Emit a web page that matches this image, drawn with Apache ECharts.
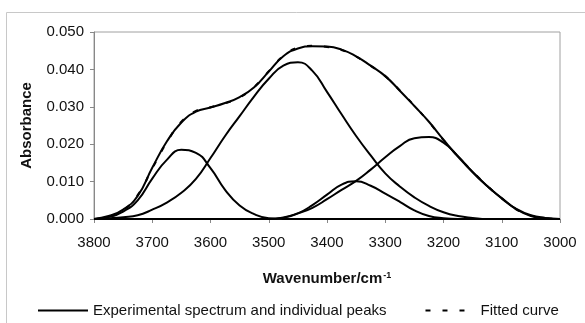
<!DOCTYPE html>
<html>
<head>
<meta charset="utf-8">
<script src="https://cdn.jsdelivr.net/npm/echarts@6/dist/echarts.min.js"></script>
<style>
  html, body { margin: 0; padding: 0; background: #fff; }
  #main { width: 585px; height: 323px; }
</style>
</head>
<body>
<div id="main"></div>
<script>
// wavenumber grid (cm-1), every 25
let wavenumbers = [3800, 3775, 3750, 3725, 3700, 3675, 3650, 3625, 3600, 3575, 3550,
  3525, 3500, 3475, 3450, 3425, 3400, 3375, 3350, 3325, 3300, 3275, 3250, 3225, 3200,
  3175, 3150, 3125, 3100, 3075, 3050, 3025, 3000];

let experimental = [0, 0.0008, 0.0025, 0.0062, 0.0137, 0.0207, 0.0258, 0.0287, 0.0298, 0.031, 0.0326,
  0.0352, 0.0394, 0.0435, 0.0456, 0.0462, 0.0461, 0.0453, 0.0435, 0.041, 0.0382, 0.0343, 0.0302, 0.026, 0.0212,
  0.0166, 0.0126, 0.0088, 0.0056, 0.0026, 0.0008, 0.0002, 0];

let fitted = [0, 0.0006, 0.0023, 0.0064, 0.0135, 0.0205, 0.026, 0.0289, 0.0299, 0.0309, 0.0325,
  0.0353, 0.0395, 0.0436, 0.0458, 0.0463, 0.046, 0.0452, 0.0434, 0.0409, 0.0382, 0.0344, 0.0303, 0.0259, 0.0211,
  0.0167, 0.0127, 0.0089, 0.0055, 0.0026, 0.0009, 0.0002, 0];

let peak1 = [0, 0.0005, 0.002, 0.005, 0.0108, 0.0158, 0.0185, 0.0177, 0.0136, 0.0078, 0.0036,
  0.0013, 0.0002, 0, 0, 0, 0, 0, 0, 0, 0, 0, 0, 0, 0,
  0, 0, 0, 0, 0, 0, 0, 0];

let peak2 = [0, 0.0002, 0.0005, 0.001, 0.0025, 0.0044, 0.007, 0.0107, 0.0163, 0.0222, 0.0275,
  0.0328, 0.0375, 0.041, 0.0419, 0.0396, 0.034, 0.028, 0.0222, 0.017, 0.0122, 0.0087, 0.0058, 0.0035, 0.0018,
  0.0008, 0.0003, 0, 0, 0, 0, 0, 0];

let peak3 = [0, 0, 0, 0, 0, 0, 0, 0, 0, 0, 0,
  0, 0, 0.0003, 0.0015, 0.0037, 0.0065, 0.0092, 0.0101, 0.0089, 0.0068, 0.0046, 0.0023, 0.0008, 0.0002,
  0, 0, 0, 0, 0, 0, 0, 0];

let peak4 = [0, 0, 0, 0, 0, 0, 0, 0, 0, 0, 0,
  0, 0, 0.0004, 0.0015, 0.003, 0.0053, 0.0078, 0.0102, 0.0132, 0.0165, 0.0195, 0.0216, 0.0219, 0.0204,
  0.0168, 0.0125, 0.0088, 0.0055, 0.0027, 0.001, 0.0003, 0];

let expName = 'Experimental spectrum and individual peaks';
let fitName = 'Fitted curve';

function pairs(values) {
  return wavenumbers.map(function (w, i) { return [w, values[i]]; });
}

function solid(values) {
  return {
    name: expName,
    type: 'line',
    smooth: 0.5,
    symbol: 'none',
    data: pairs(values),
    lineStyle: { color: '#000', width: 2 },
    itemStyle: { color: '#000' }
  };
}

let chart = echarts.init(document.getElementById('main'), null, { renderer: 'canvas' });

let option = {
  animation: false,
  backgroundColor: '#fff',
  textStyle: { fontFamily: 'Liberation Sans, Arial, sans-serif' },
  graphic: [{
    type: 'rect',
    shape: { x: 6.5, y: 12.5, width: 620, height: 400 },
    style: { fill: 'none', stroke: '#c8c8c8', lineWidth: 1 },
    silent: true
  }],
  grid: {
    left: 94, top: 32, right: 25, bottom: 104,
    show: true, borderColor: '#a0a0a0', borderWidth: 1
  },
  legend: {
    data: [expName, fitName],
    bottom: 0, left: 32,
    itemWidth: 50, itemHeight: 10, itemGap: 38,
    itemStyle: { opacity: 0 },
    textStyle: { fontSize: 15, color: '#111' }
  },
  xAxis: {
    type: 'value',
    inverse: true,
    min: 3000, max: 3800, interval: 100,
    name: 'Wavenumber/cm{sup|-1}',
    nameLocation: 'middle',
    nameGap: 52,
    nameTextStyle: {
      fontSize: 15, fontWeight: 'bold', color: '#111',
      rich: { sup: { fontSize: 9, fontWeight: 'bold', verticalAlign: 'top', padding: [0, 0, 7, 1] } }
    },
    axisLine: { lineStyle: { color: '#888' } },
    axisTick: { show: true, length: 4, lineStyle: { color: '#888' } },
    axisLabel: {
      fontSize: 15, color: '#111', margin: 16,
      formatter: function (v) { return String(v); }
    },
    splitLine: { show: false }
  },
  yAxis: {
    type: 'value',
    min: 0, max: 0.05, interval: 0.01,
    name: 'Absorbance',
    nameLocation: 'middle',
    nameRotate: 90,
    nameGap: 60,
    nameTextStyle: { fontSize: 15, fontWeight: 'bold', color: '#111' },
    axisLine: { show: true, lineStyle: { color: '#888' } },
    axisTick: { show: true, length: 4, lineStyle: { color: '#888' } },
    axisLabel: {
      fontSize: 15, color: '#111', margin: 10,
      formatter: function (v) { return v.toFixed(3); }
    },
    splitLine: { show: false }
  },
  series: [
    solid(peak1),
    solid(peak2),
    solid(peak3),
    solid(peak4),
    solid(experimental),
    {
      name: fitName,
      type: 'line',
      smooth: 0.5,
      symbol: 'none',
      data: pairs(fitted),
      lineStyle: { color: '#000', width: 2, type: [5, 12] },
      itemStyle: { color: '#000' }
    }
  ]
};

chart.setOption(option);
</script>
</body>
</html>
